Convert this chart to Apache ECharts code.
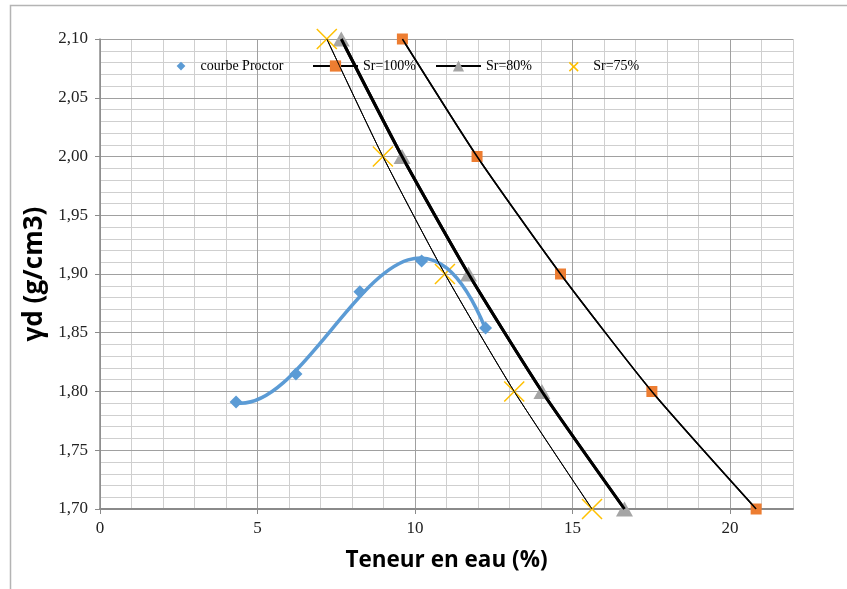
<!DOCTYPE html>
<html>
<head>
<meta charset="utf-8">
<script src="https://cdn.jsdelivr.net/npm/echarts@6/dist/echarts.min.js"></script>
<style>html,body{margin:0;padding:0;background:#fff;}#c{width:847px;height:589px;}</style>
</head>
<body>
<div id="c"></div>
<script>
// ---- data ----
var proctorW = [4.32, 6.22, 8.25, 10.21, 12.24];
var proctorD = [1.791, 1.815, 1.885, 1.911, 1.854];
var srD = [2.10, 2.00, 1.90, 1.80, 1.70];
var sr100W = [9.6, 11.97, 14.62, 17.52, 20.83];
var sr80W = [7.66, 9.59, 11.7, 14.03, 16.65];
var sr75W = [7.2, 8.98, 10.95, 13.15, 15.62];
var xTicks = [0, 5, 10, 15, 20];
var seriesNames = ['courbe Proctor', 'Sr=100%', 'Sr=80%', 'Sr=75%'];

function pairs(xs, ys) { return xs.map(function (x, i) { return [x, ys[i]]; }); }

var xPath = 'path://M0,0L10,10M10,0L0,10';
var xPathLegend = 'path://M-3,-3M13,13M0,0L10,10M10,0L0,10';
var diamondLegend = 'path://M-3,-3M13,13M5,0L10,5L5,10L0,5Z';

// Proctor curve = 3rd-order polynomial trendline of the Proctor points (as in the original
// spreadsheet chart). It is drawn as one cubic Bezier whose control points go through the
// chart's own scales (api.coord).
function cubicTrend(xs, ys) {
  var m = xs.reduce(function (a, b) { return a + b; }, 0) / xs.length;
  var N = [[0,0,0,0],[0,0,0,0],[0,0,0,0],[0,0,0,0]], r = [0,0,0,0];
  xs.forEach(function (x, k) {
    var t = x - m, row = [1, t, t * t, t * t * t];
    for (var i = 0; i < 4; i++) { r[i] += row[i] * ys[k]; for (var j = 0; j < 4; j++) N[i][j] += row[i] * row[j]; }
  });
  for (var c = 0; c < 4; c++) {
    var piv = c;
    for (var i2 = c + 1; i2 < 4; i2++) if (Math.abs(N[i2][c]) > Math.abs(N[piv][c])) piv = i2;
    var tmp = N[c]; N[c] = N[piv]; N[piv] = tmp; var tr = r[c]; r[c] = r[piv]; r[piv] = tr;
    for (var i3 = c + 1; i3 < 4; i3++) {
      var f = N[i3][c] / N[c][c];
      for (var j3 = c; j3 < 4; j3++) N[i3][j3] -= f * N[c][j3];
      r[i3] -= f * r[c];
    }
  }
  var a = [0,0,0,0];
  for (var i4 = 3; i4 >= 0; i4--) {
    var s = r[i4];
    for (var j4 = i4 + 1; j4 < 4; j4++) s -= N[i4][j4] * a[j4];
    a[i4] = s / N[i4][i4];
  }
  return {
    f: function (x) { var t = x - m; return a[0] + a[1] * t + a[2] * t * t + a[3] * t * t * t; },
    d: function (x) { var t = x - m; return a[1] + 2 * a[2] * t + 3 * a[3] * t * t; }
  };
}
var trend = cubicTrend(proctorW, proctorD);

function renderProctorCurve(params, api) {
  if (params.dataIndex !== 0) return null;
  var x0 = proctorW[0], x1 = proctorW[proctorW.length - 1], h = (x1 - x0) / 3;
  var P0 = api.coord([x0, trend.f(x0)]);
  var P1 = api.coord([x0 + h, trend.f(x0) + trend.d(x0) * h]);
  var P2 = api.coord([x1 - h, trend.f(x1) - trend.d(x1) * h]);
  var P3 = api.coord([x1, trend.f(x1)]);
  return {
    type: 'bezierCurve',
    shape: { x1: P0[0], y1: P0[1], cpx1: P1[0], cpy1: P1[1], cpx2: P2[0], cpy2: P2[1], x2: P3[0], y2: P3[1] },
    style: { fill: null, stroke: '#5b9bd5', lineWidth: 3.5, lineCap: 'round' }
  };
}

var chart = echarts.init(document.getElementById('c'));
var serif = 'Liberation Serif';
function legendAt(left, itemWidth, item) {
  return {
    left: left, top: 59, padding: 0, itemWidth: itemWidth, itemHeight: 14, itemGap: 0,
    textStyle: { fontFamily: serif, fontSize: 14, color: '#000' },
    data: [item]
  };
}

var option = {
  animation: false,
  backgroundColor: '#fff',
  graphic: [{
    type: 'rect', silent: true,
    shape: { x: 10.5, y: 5.5, width: 900, height: 700 },
    style: { fill: 'none', stroke: '#b4b4b4', lineWidth: 1.5 }
  }],
  grid: { left: 100, right: 54, top: 39, bottom: 80 },
  legend: [
    legendAt(174, 29, { name: seriesNames[0], icon: diamondLegend, itemStyle: { color: '#5b9bd5', borderWidth: 0 } }),
    legendAt(312, 45, { name: seriesNames[1] }),
    legendAt(435, 45, { name: seriesNames[2] }),
    legendAt(566, 29, { name: seriesNames[3], icon: xPathLegend, itemStyle: { color: 'rgba(0,0,0,0)', borderColor: '#ffc000', borderWidth: 1.5 } })
  ],
  xAxis: [{
    type: 'value', min: 0, max: 22, interval: 5, z: 1,
    name: 'Teneur en eau (%)', nameLocation: 'middle', nameGap: 40,
    nameTextStyle: { fontFamily: 'Open Sans', fontWeight: 'bold', fontSize: 22.5, color: '#000' },
    axisLine: { lineStyle: { color: '#8a8a8a', width: 2 } },
    axisTick: { show: true, length: 5, customValues: xTicks, lineStyle: { color: '#8a8a8a' } },
    axisLabel: { customValues: xTicks, margin: 11, fontFamily: serif, fontSize: 17, color: '#222' },
    splitLine: { show: true, lineStyle: { color: '#a0a0a0', width: 1 } }
  }, {
    type: 'value', min: 0, max: 22, interval: 1, z: 0, position: 'bottom',
    axisLine: { show: false }, axisTick: { show: false }, axisLabel: { show: false },
    splitLine: { show: true, lineStyle: { color: '#cfcfcf', width: 1 } }
  }],
  yAxis: {
    type: 'value', min: 1.70, max: 2.10, interval: 0.05, z: 1,
    name: 'γd (g/cm3)', nameLocation: 'middle', nameGap: 52, nameRotate: 90,
    nameTextStyle: { fontFamily: 'Open Sans', fontWeight: 'bold', fontSize: 26, color: '#000' },
    axisLine: { show: true, lineStyle: { color: '#8a8a8a', width: 1.5 } },
    axisTick: { show: true, length: 5, lineStyle: { color: '#8a8a8a' } },
    axisLabel: { margin: 12, fontFamily: serif, fontSize: 17, color: '#222',
      formatter: function (v) { return v.toFixed(2).replace('.', ','); } },
    splitLine: { show: true, lineStyle: { color: '#a0a0a0', width: 1 } },
    minorTick: { show: false, splitNumber: 5 },
    minorSplitLine: { show: true, lineStyle: { color: '#cfcfcf', width: 1 } }
  },
  series: [
    {
      type: 'custom', z: 3, silent: true, clip: false,
      renderItem: renderProctorCurve,
      data: pairs(proctorW, proctorD), encode: { x: 0, y: 1 }
    },
    {
      name: seriesNames[0], type: 'scatter', z: 3,
      data: pairs(proctorW, proctorD),
      symbol: 'diamond', symbolSize: 13,
      itemStyle: { color: '#5b9bd5', opacity: 1 }
    },
    {
      name: seriesNames[1], type: 'line', smooth: 0.2, z: 2,
      data: pairs(sr100W, srD),
      symbol: 'rect', symbolSize: 11,
      itemStyle: { color: '#ed7d31' },
      lineStyle: { color: '#000', width: 1.5 }
    },
    {
      name: seriesNames[2], type: 'line', smooth: 0.2, z: 2,
      data: pairs(sr80W, srD),
      symbol: 'triangle', symbolSize: [17, 15],
      itemStyle: { color: '#a5a5a5' },
      lineStyle: { color: '#000', width: 3 }
    },
    {
      name: seriesNames[3], type: 'line', smooth: 0.2, z: 2,
      data: pairs(sr75W, srD),
      symbol: xPath, symbolSize: 20,
      itemStyle: { color: 'rgba(0,0,0,0)', borderColor: '#ffc000', borderWidth: 1.5 },
      lineStyle: { color: '#000', width: 1 }
    },
    // lines drawn again over the markers, as in the reference
    { type: 'line', smooth: 0.2, z: 4, symbol: 'none', silent: true, data: pairs(sr100W, srD), lineStyle: { color: '#000', width: 1.5 } },
    { type: 'line', smooth: 0.2, z: 4, symbol: 'none', silent: true, data: pairs(sr80W, srD), lineStyle: { color: '#000', width: 3 } },
    { type: 'line', smooth: 0.2, z: 4, symbol: 'none', silent: true, data: pairs(sr75W, srD), lineStyle: { color: '#000', width: 1 } }
  ]
};
chart.setOption(option);
</script>
</body>
</html>
